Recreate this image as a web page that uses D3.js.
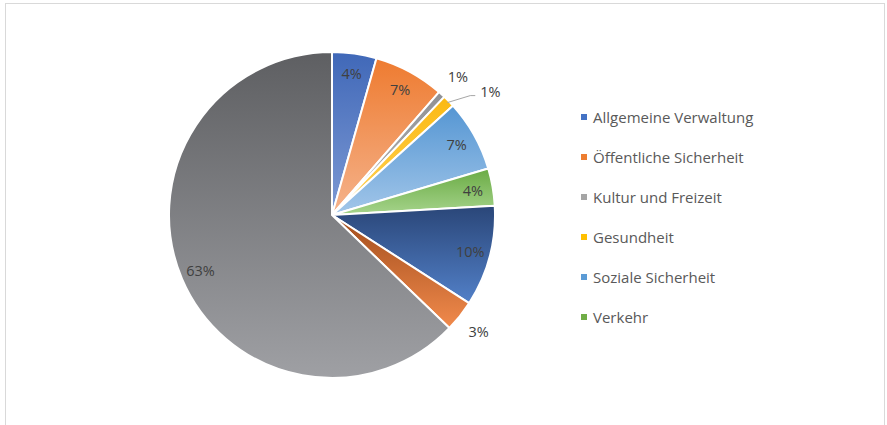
<!DOCTYPE html>
<html>
<head>
<meta charset="utf-8">
<script src="https://cdn.jsdelivr.net/npm/d3@7"></script>
<style>
  body { margin: 0; background: #fff; }
  text { font-family: "Open Sans", Lato, sans-serif; }
</style>
</head>
<body>
<svg id="chart"></svg>
<script>
// categories in drawing order (clockwise from 12 o'clock)
let categories = ["Allgemeine Verwaltung", "Öffentliche Sicherheit", "Kultur und Freizeit",
  "Gesundheit", "Soziale Sicherheit", "Verkehr", "Bildung", "Umwelt", "Sonstiges"];
let shares = [4.4, 7.0, 0.7, 1.2, 7.1, 3.7, 10.0, 3.1, 62.8];
// only the first six show in the legend (the box cut the rest)
let legendItems = categories.slice(0, 6);

let topColors = ["#4068b8", "#ee7b30", "#8f9093", "#fbb912", "#5596d3", "#6aab44", "#2a4678", "#a24d1c", "#5e5f62"];
let bottomColors = ["#7e9ad4", "#f5b38c", "#b8b9bb", "#ffd35a", "#a2c6e9", "#a6d48c", "#5280c8", "#f18a4c", "#9fa0a4"];
let legendColors = ["#4472c4", "#ed7d31", "#a5a5a5", "#ffc000", "#5b9bd5", "#70ad47"];

function createPie() {
  let w = 887, h = 425;
  let svg = d3.select("#chart").attr("width", w).attr("height", h);

  // chart frame
  svg.append("rect")
    .attr("x", 5.5).attr("y", 3.5)
    .attr("width", 879).attr("height", 440)
    .attr("fill", "none")
    .attr("stroke", "#d9d9d9");

  let cx = 332, cy = 215, r = 163;

  let defs = svg.append("defs");
  categories.forEach((c, i) => {
    let g = defs.append("linearGradient")
      .attr("id", "grad" + i)
      .attr("x1", 0).attr("y1", 0).attr("x2", 0).attr("y2", 1);
    g.append("stop").attr("offset", "0%").attr("stop-color", topColors[i]);
    g.append("stop").attr("offset", "100%").attr("stop-color", bottomColors[i]);
  });

  let pie = d3.pie().sort(null).value(d => d);
  let arcs = pie(shares);
  let arc = d3.arc().innerRadius(0).outerRadius(r);

  let g = svg.append("g").attr("transform", `translate(${cx},${cy})`);

  g.selectAll("path")
    .data(arcs)
    .enter()
    .append("path")
    .attr("d", arc)
    .attr("fill", (d, i) => `url(#grad${i})`)
    .attr("stroke", "#fff")
    .attr("stroke-width", 2)
    .attr("stroke-linejoin", "round");

  let fmt = v => Math.round(v) + "%";
  let inArc = d3.arc().innerRadius(143).outerRadius(143);
  let outArc = d3.arc().innerRadius(187).outerRadius(187);

  // labels: small slices sit outside
  let outside = [2, 3, 7];
  arcs.forEach((d, i) => {
    let p;
    if (i === 3) {
      // leader line for the second 1%
      let a0 = (d.startAngle + d.endAngle) / 2;
      let sx = Math.sin(a0) * (r - 2), sy = -Math.cos(a0) * (r - 2);
      g.append("polyline")
        .attr("points", `${sx},${sy} ${sx + 23},${sy - 7} ${sx + 28},${sy - 7}`)
        .attr("fill", "none")
        .attr("stroke", "#a6a6a6")
        .attr("stroke-width", 1);
      p = [sx + 43, sy - 11];
    } else if (outside.includes(i)) {
      p = outArc.centroid(d);
    } else {
      p = inArc.centroid(d);
    }
    g.append("text")
      .attr("x", p[0]).attr("y", p[1])
      .attr("text-anchor", "middle")
      .attr("dominant-baseline", "central")
      .style("font-size", "14.5px")
      .attr("fill", "#404040")
      .text(fmt(d.data));
  });

  // legend
  let lg = svg.append("g");
  legendItems.forEach((name, i) => {
    let y = 117 + i * 40;
    lg.append("rect")
      .attr("x", 581).attr("y", y - 3)
      .attr("width", 6).attr("height", 6)
      .attr("fill", legendColors[i]);
    lg.append("text")
      .attr("x", 593).attr("y", y)
      .attr("dominant-baseline", "central")
      .style("font-size", "15px")
      .attr("fill", "#595959")
      .text(name);
  });
}

window.onload = function() {
  createPie();
}
</script>
</body>
</html>
